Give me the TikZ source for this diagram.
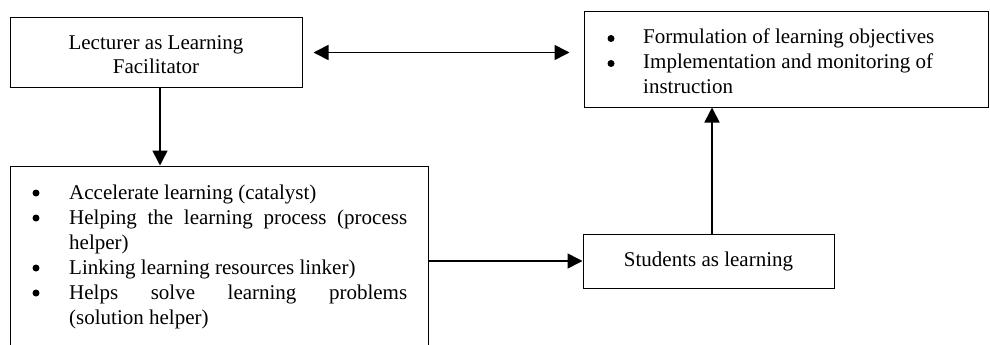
\documentclass[tikz,border=0pt]{standalone}
\usepackage{fontspec}
\setmainfont{Liberation Serif}
\usetikzlibrary{arrows.meta}
\tikzset{
  box/.style={draw=black, line width=1pt, rectangle, inner sep=0pt, fill=white},
  txt/.style={inner sep=0pt, font=\fontsize{21}{25}\selectfont},
  dot/.style={circle, fill=black, inner sep=0pt, minimum size=7pt},
  arr/.style={line width=1.6pt, -{Triangle[length=15pt,width=15pt]}},
  arrtwo/.style={line width=1.6pt, {Triangle[length=15pt,width=15pt]}-{Triangle[length=15pt,width=15pt]}},
}
\begin{document}
\begin{tikzpicture}[x=1pt,y=-1pt]
\useasboundingbox (0,0) rectangle (990,345);
\clip (0,0) rectangle (990,345);
% boxes
\node[box, minimum width=292pt, minimum height=69pt] (lect) at (156,52.5) {};
\node[box, minimum width=404pt, minimum height=95pt] (obj) at (786,59.5) {};
\node[box, minimum width=418pt, minimum height=184pt] (fac) at (219,258) {};
\node[box, minimum width=251pt, minimum height=54pt] (stud) at (708.5,261) {};
% texts
\node[txt, anchor=base] (lectA) at (156,49) {Lecturer as Learning};
\node[txt, anchor=base] (lectB) at (156,74) {Facilitator};
\node[txt, anchor=base] (studT) at (708.5,266) {Students as learning};
% objectives list
\node[dot] (ob1) at (611,38.5) {};
\node[dot] (ob2) at (611,63.5) {};
\node[txt, anchor=base west] (oa) at (643,44) {Formulation of learning objectives};
\node[txt, anchor=base west] (ob) at (643,69) {Implementation and monitoring of};
\node[txt, anchor=base west] (oc) at (643,93) {instruction};
% facilitator list
\node[dot] (fb1) at (36,193) {};
\node[dot] (fb2) at (36,218) {};
\node[dot] (fb3) at (36,268) {};
\node[dot] (fb4) at (36,293) {};
\node[txt, anchor=base west] (fa) at (69,199) {Accelerate learning (catalyst)};
\node[txt, anchor=base west] (fbb) at (69,224) {\makebox[338pt][s]{Helping the learning process (process}};
\node[txt, anchor=base west] (fc) at (69,249) {helper)};
\node[txt, anchor=base west] (fd) at (69,274) {Linking learning resources linker)};
\node[txt, anchor=base west] (fe) at (69,299) {\makebox[338pt][s]{Helps solve learning problems}};
\node[txt, anchor=base west] (ff) at (69,324) {(solution helper)};
% connectors
\draw[arrtwo] ([xshift=11pt]lect.east) -- ([xshift=-14pt]lect.east -| obj.west);
\draw[arr] ([xshift=4pt]lect.south) -- ([xshift=4pt]lect.south |- fac.north);
\draw[arr] (stud.west -| fac.east) -- (stud.west);
\draw[arr] ([xshift=3.5pt]stud.north) -- ([xshift=3.5pt]stud.north |- obj.south);
\end{tikzpicture}
\end{document}
